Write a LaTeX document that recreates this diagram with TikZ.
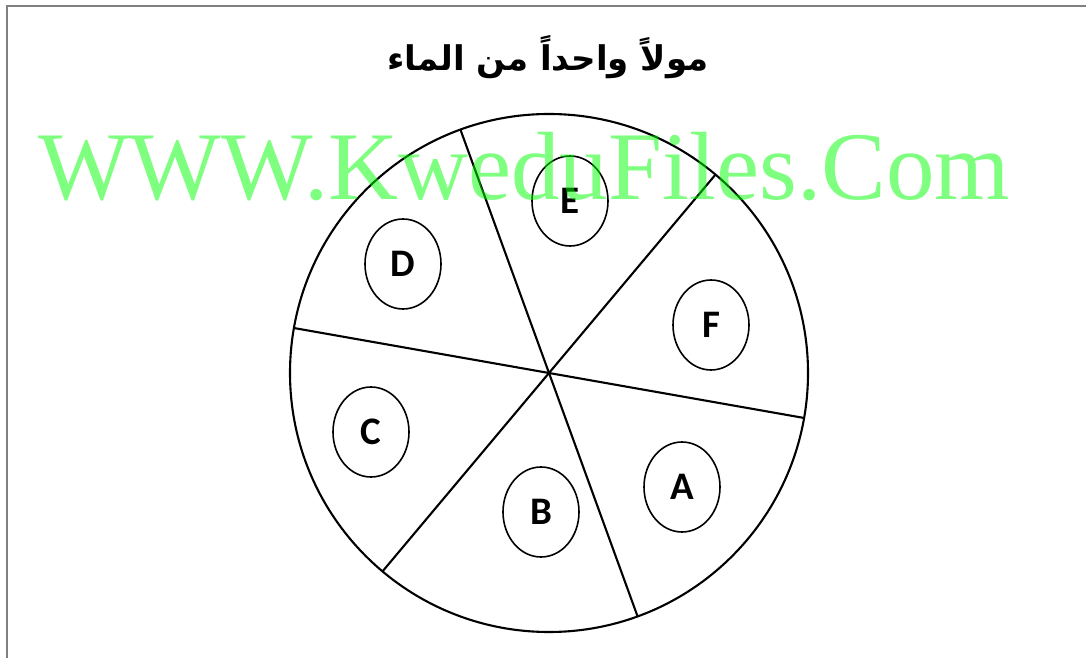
\documentclass[tikz,border=0pt]{standalone}
\usepackage{fontspec}
\usetikzlibrary{shapes.geometric}
\TeXXeTstate=1
\newfontfamily\arabicfont[Script=Arabic]{DejaVu Sans}
\newfontfamily\lettfont{Carlito}
\newfontfamily\wmfont{Liberation Serif}
\tikzset{
  part/.style={draw=black, line width=2.1pt},
  oval/.style={draw=black, line width=1.6pt, ellipse, minimum width=76pt, minimum height=90pt, inner sep=0pt, font=\lettfont\bfseries\fontsize{39}{39}\selectfont},
  frameline/.style={draw=gray, line width=2pt},
}
\begin{document}
\begin{tikzpicture}[x=1pt,y=1pt]
\useasboundingbox (0,0) rectangle (1086,658);
\fill[white] (0,0) rectangle (1086,658);
\coordinate (f1) at (6.5,0);
\coordinate (f2) at (6.5,651.5);
\coordinate (f3) at (1090,651.5);
\draw[frameline] (f1) -- (f2) -- (f3);
\node[font=\arabicfont\bfseries\fontsize{34}{34}\selectfont, inner sep=0pt] (title) at (548,601) {\beginR مولاً واحداً من الماء\endR};
\node[circle, draw=black, line width=2.1pt, minimum size=518pt, inner sep=0pt, outer sep=0pt] (C) at (549,285) {};
\draw[part] (C.110) -- (C.-70);
\draw[part] (C.170) -- (C.-10);
\draw[part] (C.50.5) -- (C.230.5);
\node[oval] (D) at (403,394) {D};
\node[oval] (E) at (570,457) {E};
\node[oval] (F) at (711,333) {F};
\node[oval] (Cc) at (371,226) {C};
\node[oval] (B) at (541,146) {B};
\node[oval] (A) at (682,171) {A};
\node[anchor=base west, inner sep=0pt, text=green, text opacity=0.5, font=\wmfont\fontsize{97}{97}\selectfont] (wm) at (38,458) {WWW.KweduFiles.Com};
\end{tikzpicture}
\end{document}
